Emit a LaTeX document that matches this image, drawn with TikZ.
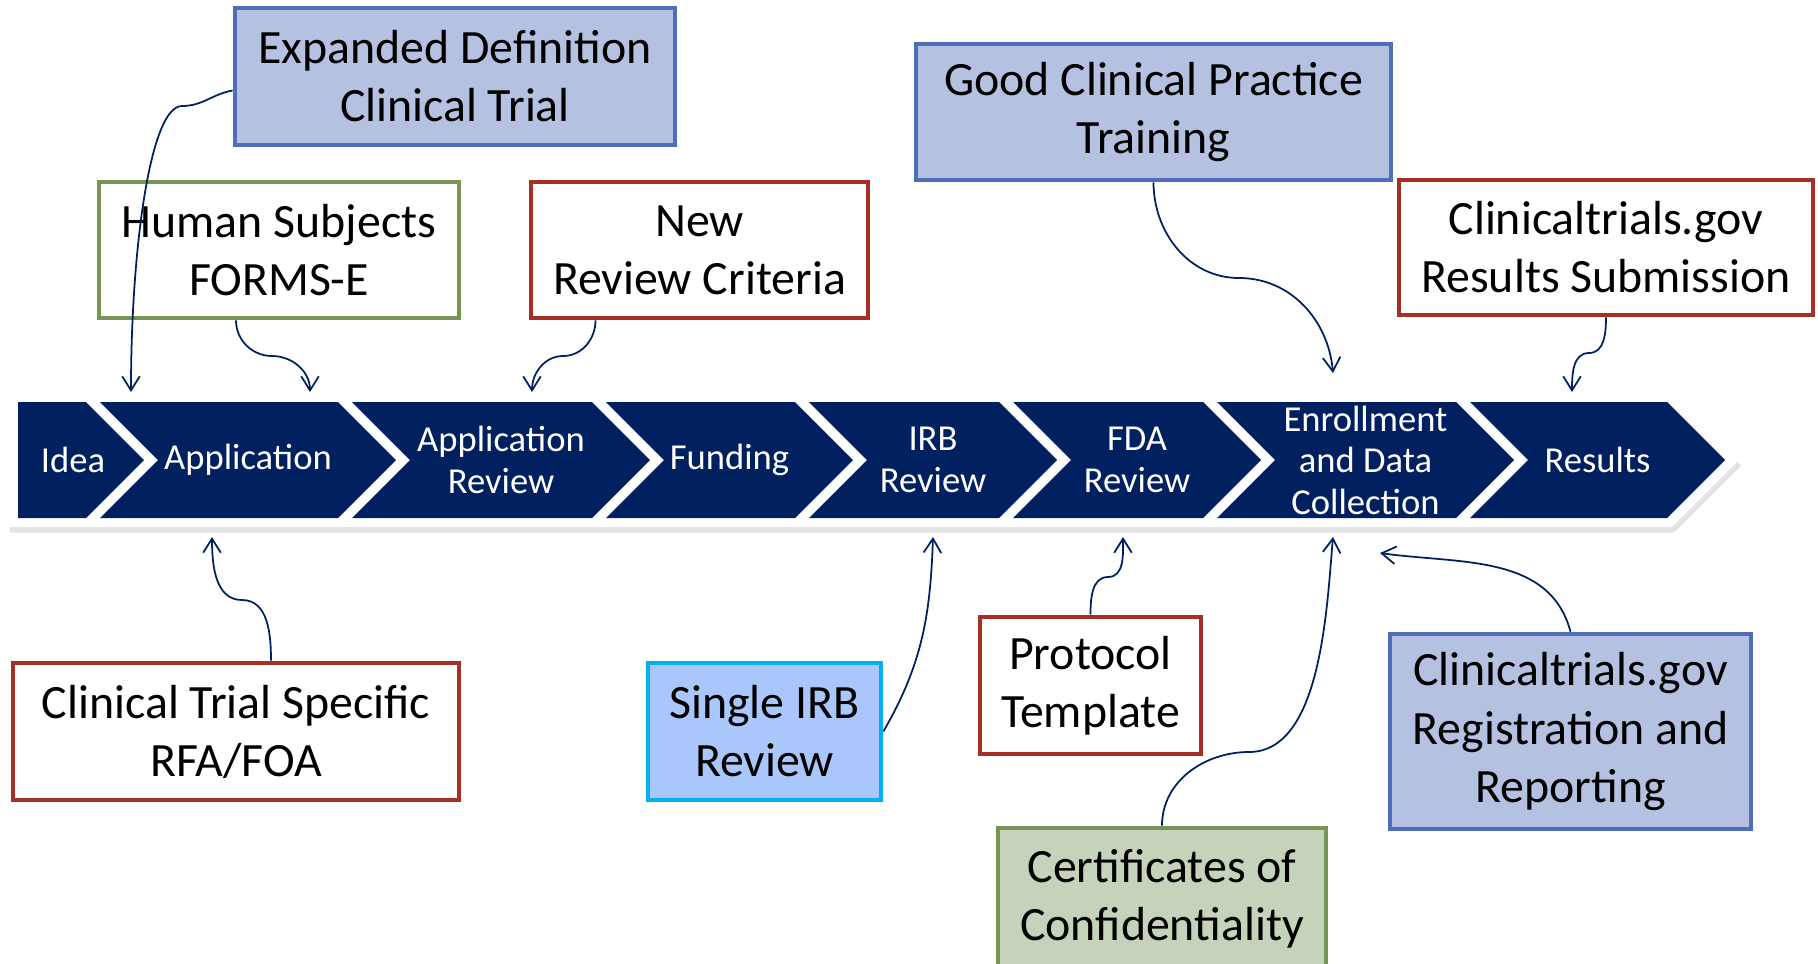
\documentclass[tikz,border=0pt]{standalone}
\usepackage{fontspec}
\setmainfont{Carlito}
\usetikzlibrary{math, calc, arrows.meta, shadows}

\definecolor{marino}{RGB}{0,32,96}
\definecolor{azulborde}{RGB}{79,110,182}
\definecolor{azulrelleno}{RGB}{180,193,225}
\definecolor{rojoborde}{RGB}{166,46,36}
\definecolor{verdeborde}{RGB}{119,147,86}
\definecolor{verderelleno}{RGB}{197,211,186}
\definecolor{cian}{RGB}{0,176,240}
\definecolor{cianrelleno}{RGB}{170,199,252}

\begin{document}
\begin{tikzpicture}[x=0.01cm, y=0.01cm,
    caja/.style={draw, line width=1.3pt, inner sep=0pt, align=center,
        font=\fontsize{13.6}{16.5}\selectfont},
    azul/.style={caja, draw=azulborde, fill=azulrelleno},
    roja/.style={caja, draw=rojoborde, fill=white},
    verde/.style={caja, draw=verdeborde, fill=white},
    etapa/.style={text=white, align=center, font=\fontsize{10.4}{11.8}\selectfont},
    flecha/.style={marino, line width=0.5pt, -{Straight Barb[length=4pt, width=5pt]}},
]
    \tikzmath{
        \ysup = -402;
        \yinf = -518;
        \ymed = -460;
        \punta = 58;
    }

\useasboundingbox (0,0) rectangle (1818,-963);

% fondo blanco de la banda, con sombra
\fill[white, drop shadow={shadow xshift=0.6pt, shadow yshift=-1.6pt, opacity=0.22}]
    (8,\ysup+9) -- (1672,\ysup+9) -- (1739,\ymed) -- (1672,\yinf-9) -- (8,\yinf-9) -- cycle;

% Etapas
\fill[marino] (18,\ysup) -- (86,\ysup) -- ({86+\punta},\ymed) -- (86,\yinf) -- (18,\yinf) -- cycle;
\node[etapa] (idea) at (73,\ymed) {Idea};

\foreach \nombre/\xa/\xb/\texto in {app/100/338/Application,
        apprev/352/592/{Application\\Review},
        fondos/606/795/Funding,
        irb/809/999/{IRB\\Review},
        fda/1013/1203/{FDA\\Review},
        datos/1217/1456/{Enrollment\\and Data\\Collection},
        result/1470/1667/Results} {
    \fill[marino] (\xa,\ysup) -- (\xb,\ysup) -- ({\xb+\punta},\ymed) -- (\xb,\yinf) --
                  (\xa,\yinf) -- ({\xa+\punta},\ymed) -- cycle;
    \node[etapa] (\nombre) at ({(\xa+\punta+\xb)/2},\ymed) {\texto};
}

% puntas de las flechas
\coordinate (e1) at (131,-392);
\coordinate (e2) at (310,-392);
\coordinate (e3) at (532,-392);
\coordinate (e4) at (1333,-373);
\coordinate (e5) at (1572,-392);
\coordinate (b1) at (212,-537);
\coordinate (b2) at (933,-537);
\coordinate (b3) at (1123,-537);
\coordinate (b4) at (1333,-537);
\coordinate (b5) at (1380,-553);

% Cajas de arriba
\node[azul, minimum width=4.40cm, minimum height=1.37cm] (expdef) at (455,-76.5)
    {Expanded Definition\\Clinical Trial};
\node[verde, minimum width=3.60cm, minimum height=1.36cm] (forms) at (279,-250)
    {Human Subjects\\FORMS-E};
\node[roja, minimum width=3.37cm, minimum height=1.36cm] (criterios) at (699.5,-250)
    {New\\Review Criteria};
\node[azul, minimum width=4.75cm, minimum height=1.36cm] (gcp) at (1153.5,-112)
    {Good Clinical Practice\\Training};
\node[roja, minimum width=4.14cm, minimum height=1.35cm] (resultados) at (1606,-247.5)
    {Clinicaltrials.gov\\Results Submission};

% Cajas de abajo
\node[roja, minimum width=4.46cm, minimum height=1.37cm] (rfa) at (236,-731.5)
    {Clinical Trial Specific\\RFA/FOA};
\node[caja, draw=cian, fill=cianrelleno, minimum width=2.33cm, minimum height=1.37cm] (sirb) at (764.5,-731.5)
    {Single IRB\\Review};
\node[roja, minimum width=2.21cm, minimum height=1.37cm] (protocolo) at (1090.5,-685.5)
    {Protocol\\Template};
\node[verde, fill=verderelleno, minimum width=3.28cm, minimum height=1.42cm] (certificados) at (1162,-899)
    {Certificates of\\Confidentiality};
\node[azul, minimum width=3.61cm, minimum height=1.95cm] (registro) at (1570.5,-731.5)
    {Clinicaltrials.gov\\Registration and\\Reporting};

% Flechas de arriba
\draw[flecha] ($(expdef.west)+(0,-14)$) to[out=190,in=0] (182,-106)
    .. controls (150,-106) and (131,-250) .. (e1);
\draw[flecha] ($(forms.south)+(-43,0)$) to[out=-90,in=180] (272,-356) to[out=0,in=90] (e2);
\draw[flecha] ($(criterios.south)+(-104,0)$) to[out=-90,in=0] (563,-356) to[out=180,in=90] (e3);
\draw[flecha] (gcp.south) to[out=-90,in=180] (1239,-278) to[out=0,in=95] (e4);
\draw[flecha] (resultados.south) to[out=-90,in=0] (1589,-353) to[out=180,in=90] (e5);

% Flechas de abajo
\draw[flecha] ($(rfa.north)+(35,0)$) to[out=90,in=0] (242,-600) to[out=180,in=-90] (b1);
\draw[flecha] (sirb.east) to[out=60,in=-92] (b2);
\draw[flecha] (protocolo.north) to[out=90,in=180] (1108,-577) to[out=0,in=-90] (b3);
\draw[flecha] (certificados.north) to[out=90,in=180] (1249,-752) to[out=0,in=-95,looseness=0.8] (b4);
\draw[flecha] (registro.north) to[out=105,in=-8] (b5);

\end{tikzpicture}
\end{document}
